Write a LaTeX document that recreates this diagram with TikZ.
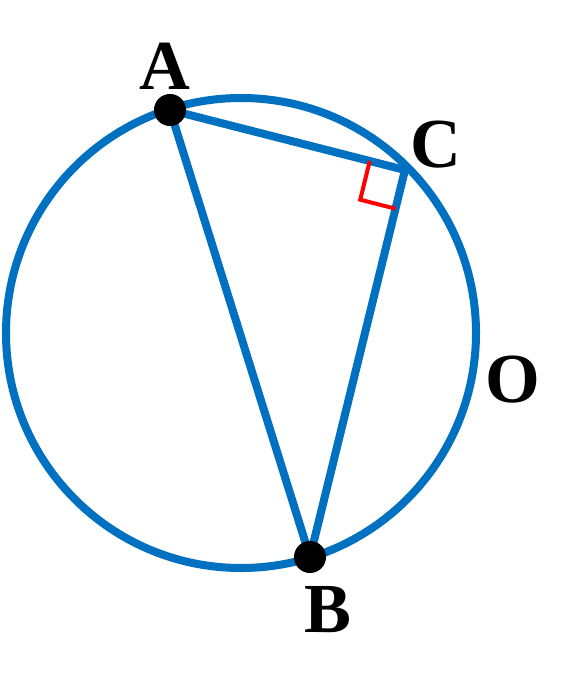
\documentclass[tikz,border=0pt]{standalone}
\usepackage{fontspec}
\setmainfont{Liberation Serif}
\usetikzlibrary{calc}
\definecolor{cblue}{RGB}{0,112,192}
\begin{document}
\begin{tikzpicture}[x=0.01cm,y=-0.01cm,
  blueline/.style={draw=cblue,line width=0.08cm},
  lbl/.style={font=\fontsize{20}{22}\selectfont\bfseries,inner sep=0pt},
  dot/.style={circle,fill=black,inner sep=0pt,minimum size=0.32cm}]
\useasboundingbox (0,0) rectangle (581,688);
\coordinate (O) at (241,333);
\draw[blueline] (O) circle (235);
\coordinate (A) at (170,110);
\coordinate (C) at (405,170);
\coordinate (B) at (310,557);
\draw[blueline,line join=round] (A) -- (C) -- (B) -- cycle;
\coordinate (m1) at ($(C)!0.15!(A)$);
\coordinate (m3) at ($(C)!0.1!(B)$);
\coordinate (m2) at ($(m1)+(m3)-(C)$);
\draw[red,line width=0.04cm] (m1) -- (m2) -- (m3);
\node[dot] (Ad) at (A) {};
\node[dot] (Bd) at (B) {};
\node[lbl] (la) at (165,66) {A};
\node[lbl] (lc) at (436,145) {C};
\node[lbl] (lo) at (513,380) {O};
\node[lbl] (lb) at (328,610) {B};
\end{tikzpicture}
\end{document}
